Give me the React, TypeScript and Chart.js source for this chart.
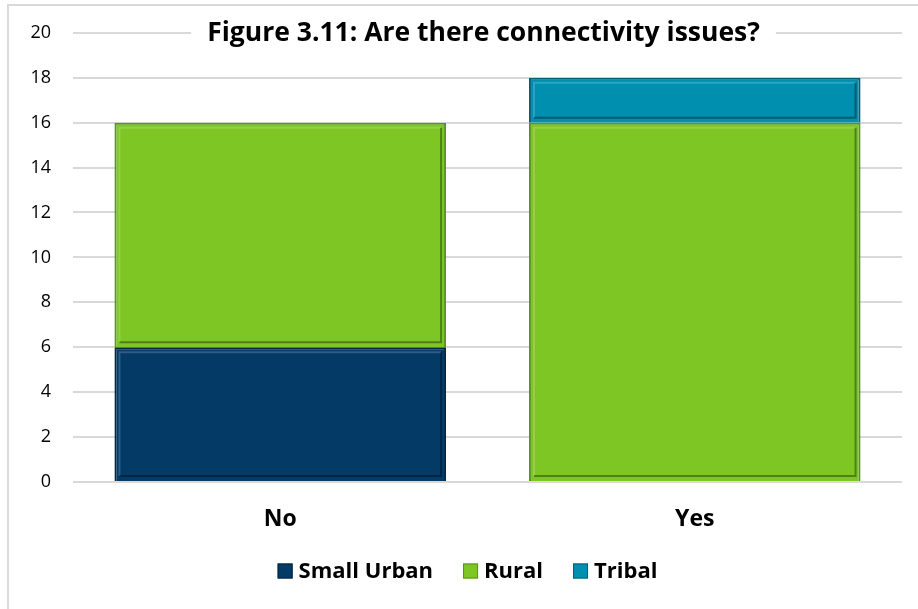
import React, { useEffect, useRef } from "react";
import { Chart, registerables } from "chart.js";

Chart.register(...registerables);

const categories = ["No", "Yes"];
const smallUrban = [6, 0];
const rural = [10, 16];
const tribal = [0, 2];
const yTicks = [0, 2, 4, 6, 8, 10, 12, 14, 16, 18, 20];
const titleText = "Figure 3.11: Are there connectivity issues?";

const FONT = "'Open Sans', 'Noto Sans', sans-serif";

const titlePlugin = {
  id: "innerTitle",
  afterDraw(chart: any) {
    const { ctx, chartArea } = chart;
    ctx.save();
    ctx.font = `bold 26.5px ${FONT}`;
    const w = ctx.measureText(titleText).width;
    const cx = (chartArea.left + chartArea.right) / 2 - 4;
    const cy = chartArea.top;
    ctx.fillStyle = "#ffffff";
    ctx.fillRect(cx - w / 2 - 16, cy - 16, w + 32, 32);
    ctx.fillStyle = "#000000";
    ctx.textAlign = "center";
    ctx.textBaseline = "middle";
    ctx.fillText(titleText, cx, cy + 1);
    ctx.restore();
  },
};

const legendPlugin = {
  id: "customLegend",
  afterDraw(chart: any) {
    const { ctx } = chart;
    const box = 15;
    const boxGap = 6;
    const itemGap = 30;
    const y = 571;
    ctx.save();
    ctx.font = `bold 22px ${FONT}`;
    const items = chart.data.datasets.map((ds: any) => ({
      label: ds.label,
      fill: ds.backgroundColor,
      stroke: ds.borderColor,
      w: ctx.measureText(ds.label).width,
    }));
    const total =
      items.reduce((a: number, it: any) => a + box + boxGap + it.w, 0) +
      itemGap * (items.length - 1);
    let x = (chart.width + 17) / 2 - total / 2;
    ctx.textBaseline = "middle";
    ctx.textAlign = "left";
    items.forEach((it: any) => {
      ctx.fillStyle = it.fill;
      ctx.fillRect(x, y - box / 2, box, box);
      ctx.lineWidth = 1;
      ctx.strokeStyle = it.stroke;
      ctx.strokeRect(x + 0.5, y - box / 2 + 0.5, box - 1, box - 1);
      ctx.fillStyle = "#000";
      ctx.fillText(it.label, x + box + boxGap, y + 1);
      x += box + boxGap + it.w + itemGap;
    });
    ctx.restore();
  },
};

const bevelPlugin = {
  id: "bevel",
  afterDatasetsDraw(chart: any) {
    const { ctx } = chart;
    ctx.save();
    chart.data.datasets.forEach((ds: any, i: number) => {
      const meta = chart.getDatasetMeta(i);
      meta.data.forEach((bar: any) => {
        const { x, y, base, width } = bar.getProps(["x", "y", "base", "width"], true);
        const h = Math.abs(base - y);
        if (h < 6) return;
        const l = x - width / 2;
        const r = x + width / 2;
        const t = Math.min(y, base);
        const b = Math.max(y, base);
        const inset = 5;
        ctx.lineWidth = 2;
        ctx.strokeStyle = "rgba(255,255,255,0.18)";
        ctx.beginPath();
        ctx.moveTo(l + inset, b - inset);
        ctx.lineTo(l + inset, t + inset);
        ctx.lineTo(r - inset, t + inset);
        ctx.stroke();
        ctx.strokeStyle = "rgba(0,0,0,0.35)";
        ctx.beginPath();
        ctx.moveTo(r - inset, t + inset);
        ctx.lineTo(r - inset, b - inset);
        ctx.lineTo(l + inset, b - inset);
        ctx.stroke();
      });
    });
    ctx.restore();
  },
};

export default function App() {
  const ref = useRef<HTMLCanvasElement | null>(null);

  useEffect(() => {
    if (!ref.current) return;
    const chart = new Chart(ref.current, {
      type: "bar",
      data: {
        labels: categories,
        datasets: [
          {
            label: "Small Urban",
            data: smallUrban,
            backgroundColor: "#033a66",
            borderColor: "#022540",
            borderWidth: 2,
          },
          {
            label: "Rural",
            data: rural,
            backgroundColor: "#7dc623",
            borderColor: "#5a9418",
            borderWidth: 2,
          },
          {
            label: "Tribal",
            data: tribal,
            backgroundColor: "#008fae",
            borderColor: "#006078",
            borderWidth: 2,
          },
        ],
      },
      options: {
        animation: false,
        responsive: false,
        maintainAspectRatio: false,
        layout: { padding: { top: 28, right: 16, bottom: 58, left: 0 } },
        datasets: { bar: { categoryPercentage: 0.8, barPercentage: 1 } },
        plugins: {
          title: { display: false },
          tooltip: { enabled: false },
          legend: { display: false },
        },
        scales: {
          x: {
            stacked: true,
            grid: { display: false, drawTicks: false },
            border: { display: false },
            ticks: {
              color: "#000",
              padding: 24,
              font: { family: FONT, size: 23, weight: "bold" },
            },
            afterFit: (s: any) => {
              s.height = 69;
            },
          },
          y: {
            stacked: true,
            min: 0,
            max: 20,
            afterBuildTicks: (s: any) => {
              s.ticks = yTicks.map((v) => ({ value: v }));
            },
            grid: { color: "#d9d9d9", lineWidth: 2, drawTicks: false },
            border: { display: false },
            ticks: {
              color: "#000",
              padding: 22,
              font: { family: FONT, size: 18 },
            },
            afterFit: (s: any) => {
              s.width = 73;
            },
          },
        },
      },
      plugins: [bevelPlugin, titlePlugin, legendPlugin],
    });
    return () => chart.destroy();
  }, []);

  return (
    <div
      style={{
        position: "fixed",
        left: 0,
        top: 0,
        width: 918,
        height: 609,
        background: "#fff",
      }}
    >
      <div
        style={{
          position: "absolute",
          left: 7,
          top: 4,
          right: 0,
          bottom: 0,
          borderLeft: "2px solid #d9d9d9",
          borderTop: "2px solid #d9d9d9",
        }}
      />
      <canvas ref={ref} width={918} height={609} style={{ position: "absolute", left: 0, top: 0 }} />
    </div>
  );
}
